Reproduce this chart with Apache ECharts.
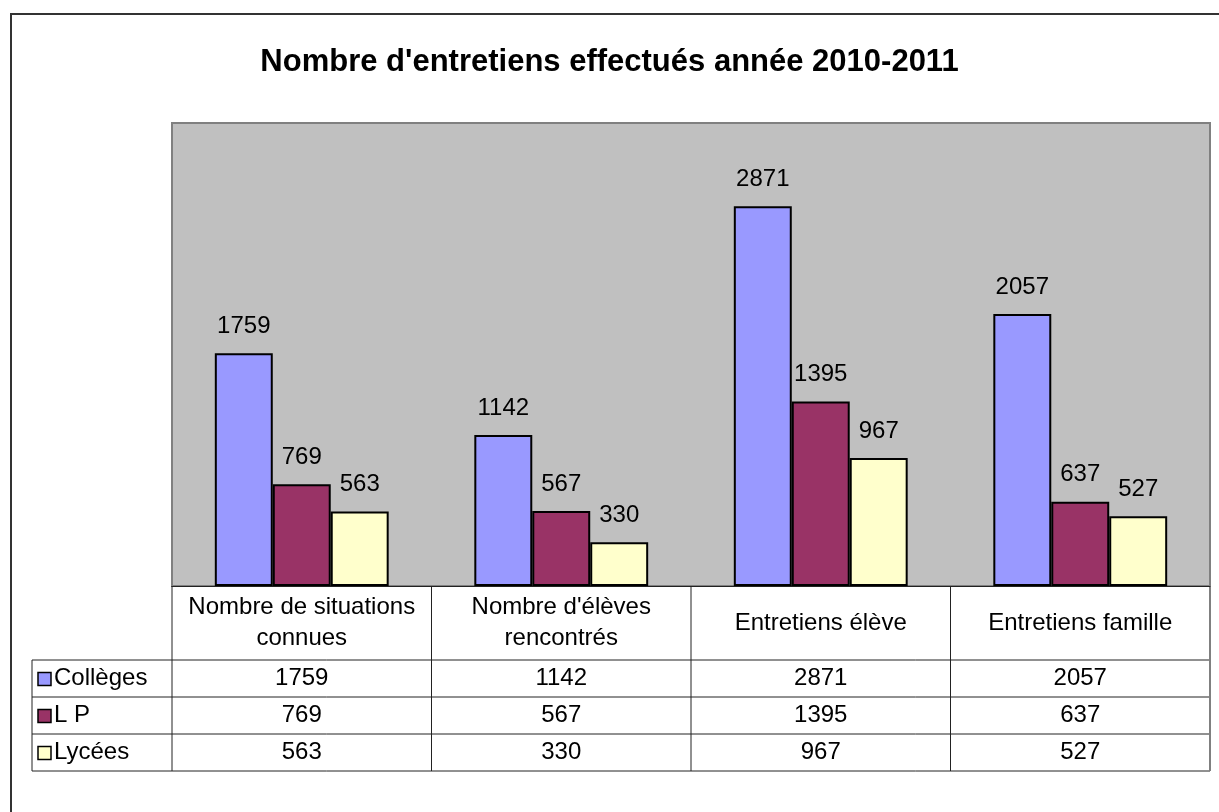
<!DOCTYPE html>
<html>
<head>
<meta charset="utf-8">
<script src="https://cdn.jsdelivr.net/npm/echarts@6/dist/echarts.min.js"></script>
<style>
  html, body { margin: 0; padding: 0; background: #fff; }
  #main { width: 1219px; height: 812px; }
</style>
</head>
<body>
<div id="main"></div>
<script>
const categories = ["Nombre de situations\nconnues", "Nombre d'élèves\nrencontrés", "Entretiens élève", "Entretiens famille"];
const seriesNames = ["Collèges", "L P", "Lycées"];
const colleges = [1759, 1142, 2871, 2057];
const lp = [769, 567, 1395, 637];
const lycees = [563, 330, 967, 527];

const colors = ["#9999FF", "#993366", "#FFFFCC"];
const font = "Liberation Sans, Arial, sans-serif";
const fs = 24;

// plot area and table geometry
const plot = { left: 172, top: 123, width: 1038, height: 463 };
const plotBottom = plot.top + plot.height;
const headerH = 74;
const rowH = 37;
const tableLeft = 32;
const tableRight = plot.left + plot.width;

var myChart = echarts.init(document.getElementById("main"));

const seriesData = [colleges, lp, lycees];

const options = {
  animation: false,
  textStyle: { fontFamily: font },
  title: {
    text: "Nombre d'entretiens effectués année 2010-2011",
    left: "center",
    top: 42,
    textStyle: { fontSize: 31, fontWeight: "bold", color: "#000", fontFamily: font }
  },
  grid: {
    left: plot.left, top: plot.top, width: plot.width, height: plot.height,
    show: true,
    backgroundColor: "#C0C0C0",
    borderColor: "#808080",
    borderWidth: 2
  },
  xAxis: {
    type: "category",
    data: categories,
    axisLine: { show: true, lineStyle: { color: "#222", width: 1 } },
    axisTick: { show: false },
    axisLabel: {
      interval: 0,
      margin: 37,
      verticalAlign: "middle",
      fontSize: fs,
      lineHeight: 31,
      color: "#000",
      fontFamily: font
    }
  },
  yAxis: {
    type: "value",
    min: 0,
    max: 3500,
    show: false,
    splitLine: { show: false }
  },
  series: seriesNames.map((name, i) => ({
    name: name,
    type: "bar",
    data: seriesData[i],
    barGap: "0%",
    barCategoryGap: "33%",
    itemStyle: { color: colors[i], borderColor: "#000", borderWidth: 2 },
    label: {
      show: true,
      position: "top",
      distance: 15,
      fontSize: fs,
      color: "#000",
      fontFamily: font
    }
  }))
};

myChart.setOption(options);

// data table under the plot
const graphics = [];
const lineStyle = { stroke: "#222", lineWidth: 1 };
const rowsTop = plotBottom + headerH;
const tableBottom = rowsTop + rowH * seriesNames.length;

// outer frame (clipped by the page at right and bottom)
graphics.push({ type: "rect", shape: { x: 11, y: 14, width: 1240, height: 840 }, style: { fill: null, stroke: "#333", lineWidth: 2 } });

// horizontal lines
for (let r = 0; r <= seriesNames.length; r++) {
  const y = rowsTop + r * rowH;
  graphics.push({ type: "line", shape: { x1: tableLeft, y1: y, x2: tableRight, y2: y }, style: lineStyle });
}
// vertical lines
const bounds = [];
for (let c = 0; c <= categories.length; c++) bounds.push(plot.left + c * plot.width / categories.length);
bounds.forEach((x, c) => {
  graphics.push({
    type: "line",
    shape: { x1: x, y1: plotBottom, x2: x, y2: tableBottom },
    style: c === categories.length ? { stroke: "#808080", lineWidth: 2 } : lineStyle
  });
});
graphics.push({ type: "line", shape: { x1: tableLeft, y1: rowsTop, x2: tableLeft, y2: tableBottom }, style: lineStyle });

seriesNames.forEach((name, r) => {
  const cy = rowsTop + r * rowH + rowH / 2;
  graphics.push({ type: "rect", shape: { x: 38, y: cy - 6, width: 13, height: 13 }, style: { fill: colors[r], stroke: "#000", lineWidth: 1.5 } });
  graphics.push({ type: "text", x: 54, y: cy, style: { text: name, font: fs + "px " + font, fill: "#000", verticalAlign: "middle", align: "left" } });
  seriesData[r].forEach((v, c) => {
    const cx = myChart.convertToPixel({ xAxisIndex: 0 }, c);
    graphics.push({ type: "text", x: cx, y: cy, style: { text: String(v), font: fs + "px " + font, fill: "#000", verticalAlign: "middle", align: "center" } });
  });
});

myChart.setOption({ graphic: graphics });

window.onresize = function() {
  myChart.resize();
};
</script>
</body>
</html>
